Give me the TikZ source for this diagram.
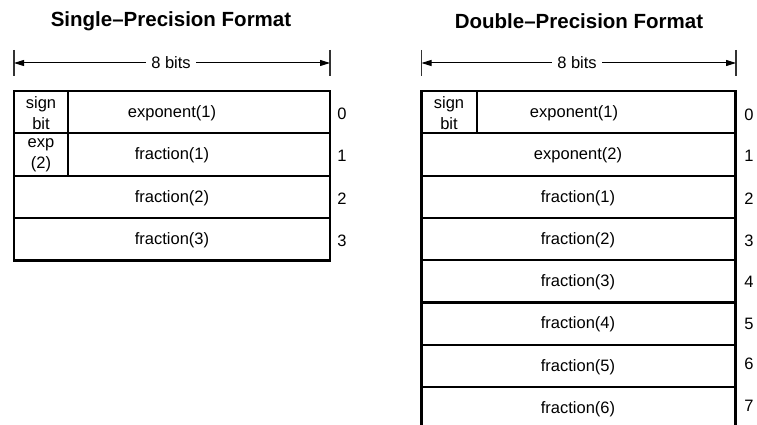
\documentclass[tikz,border=0pt]{standalone}
\usepackage{fontspec}
\setmainfont{Liberation Sans}
\usetikzlibrary{arrows.meta}
\begin{document}
\begin{tikzpicture}[x=1pt,y=-1pt,
  cell/.style={draw, line width=2.2pt, inner sep=0pt, outer sep=0pt, anchor=north west,
    minimum height=42.3pt},
  frame/.style={draw, line width=2.8pt, inner sep=0pt, outer sep=0pt, anchor=north west},
  txt/.style={inner sep=0pt, align=center, font=\fontsize{16.5}{20.5}\selectfont},
  num/.style={inner sep=0pt, font=\fontsize{16.5}{18.5}\selectfont},
  title/.style={inner sep=0pt, font=\fontsize{20.5}{24}\selectfont\bfseries},
  tick/.style={line width=1.1pt, black!80},
  dim/.style={line width=1pt, {Triangle[length=10pt,width=6pt]}-{Triangle[length=10pt,width=6pt]}},
  dimlabel/.style={fill=white, inner xsep=5pt, inner ysep=2pt, font=\fontsize{16.5}{18.5}\selectfont}
]
\useasboundingbox (0,0) rectangle (757,425);
\clip (0,0) rectangle (757,425);

% ---------- Single precision ----------
\node[title] (Ltitle) at (171,21) {Single–Precision Format};

\coordinate (LtA1) at (14,50);  \coordinate (LtA2) at (14,76);
\coordinate (LtB1) at (330,50); \coordinate (LtB2) at (330,76);
\coordinate (LaA) at (14,63);   \coordinate (LaB) at (330,63);
\draw[tick] (LtA1) -- (LtA2);
\draw[tick] (LtB1) -- (LtB2);
\draw[dim] (LaA) -- (LaB);
\node[dimlabel] (Ldim) at (171,63) {8 bits};

\node[cell, minimum width=54pt] (Ls0) at (14,91) {};
\node[cell, minimum width=262pt] (Lw0) at (68,91) {};
\node[cell, minimum width=54pt] (Ls1) at (14,133.3) {};
\node[cell, minimum width=262pt] (Lw1) at (68,133.3) {};
\node[cell, minimum width=316pt] (Lw2) at (14,175.6) {};
\node[cell, minimum width=316pt] (Lw3) at (14,217.9) {};
\node[frame, minimum width=316pt, minimum height=169.2pt] (Lbox) at (14,91) {};

\node[txt] (Lsb) at (41,113.2) {sign\\bit};
\node[txt] (Lex) at (41,155.5) {exp\\(2)};
\node[txt] (Lt0) at (172,113.2) {exponent(1)};
\node[txt] (Lt1) at (172,155.5) {fraction(1)};
\node[txt] (Lt2) at (172,197.8) {fraction(2)};
\node[txt] (Lt3) at (172,240.1) {fraction(3)};

\node[num] (Ln0) at (342,113.8) {0};
\node[num] (Ln1) at (342,156.1) {1};
\node[num] (Ln2) at (342,198.4) {2};
\node[num] (Ln3) at (342,240.7) {3};

% ---------- Double precision ----------
\node[title] (Rtitle) at (579,21) {Double–Precision Format};

\coordinate (RtA1) at (421.5,50); \coordinate (RtA2) at (421.5,76);
\coordinate (RtB1) at (736,50);   \coordinate (RtB2) at (736,76);
\coordinate (RaA) at (421.5,63);  \coordinate (RaB) at (736,63);
\draw[tick] (RtA1) -- (RtA2);
\draw[tick] (RtB1) -- (RtB2);
\draw[dim] (RaA) -- (RaB);
\node[dimlabel] (Rdim) at (577,63) {8 bits};

\node[cell, minimum width=55.5pt] (Rs0) at (421.5,91) {};
\node[cell, minimum width=258.5pt] (Rw0) at (477,91) {};
\node[cell, minimum width=314pt] (Rw1) at (421.5,133.3) {};
\node[cell, minimum width=314pt] (Rw2) at (421.5,175.6) {};
\node[cell, minimum width=314pt] (Rw3) at (421.5,217.9) {};
\node[cell, minimum width=314pt] (Rw4) at (421.5,260.2) {};
\node[cell, minimum width=314pt] (Rw5) at (421.5,302.5) {};
\node[cell, minimum width=314pt] (Rw6) at (421.5,344.8) {};
\node[cell, minimum width=314pt] (Rw7) at (421.5,387.1) {};
\node[frame, minimum width=314pt, minimum height=338.4pt] (Rbox) at (421.5,91) {};

\node[txt] (Rsb) at (449,113.2) {sign\\bit};
\node[txt] (Rt0) at (574,113.2) {exponent(1)};
\node[txt] (Rt1) at (578,155.5) {exponent(2)};
\node[txt] (Rt2) at (578,197.8) {fraction(1)};
\node[txt] (Rt3) at (578,240.1) {fraction(2)};
\node[txt] (Rt4) at (578,282.4) {fraction(3)};
\node[txt] (Rt5) at (578,324.7) {fraction(4)};
\node[txt] (Rt6) at (578,367.0) {fraction(5)};
\node[txt] (Rt7) at (578,409.3) {fraction(6)};

\node[num] (Rn0) at (749,115) {0};
\node[num] (Rn1) at (749,156.1) {1};
\node[num] (Rn2) at (749,198.4) {2};
\node[num] (Rn3) at (749,240.7) {3};
\node[num] (Rn4) at (749,281.5) {4};
\node[num] (Rn5) at (749,323.8) {5};
\node[num] (Rn6) at (749,364.1) {6};
\node[num] (Rn7) at (749,405.4) {7};
\end{tikzpicture}
\end{document}
